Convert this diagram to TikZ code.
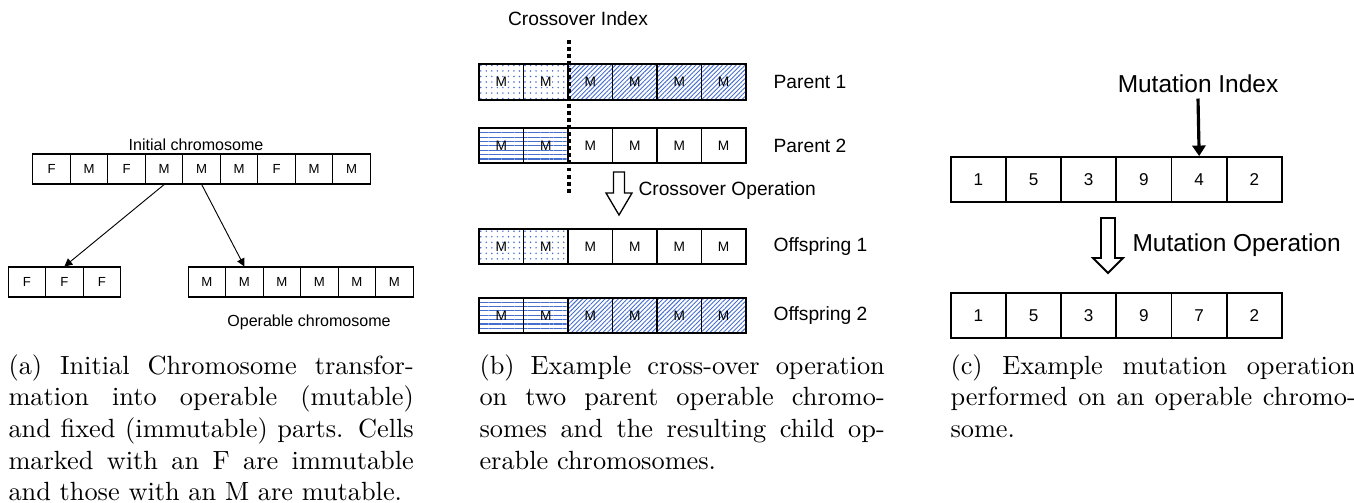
\documentclass[tikz,border=0pt]{standalone}
\usepackage{fontspec}
\newfontfamily\arial{Liberation Sans}
\usetikzlibrary{arrows.meta,positioning,patterns.meta}
\definecolor{hatchblue}{RGB}{70,110,205}
\tikzset{>={Triangle[length=3pt,width=3pt]}}
\tikzset{
  cell/.style={draw,rectangle,inner sep=0pt},
  acell/.style={cell,line width=0.4pt,minimum width=14.25pt,minimum height=11.4pt,
    node distance=14.25pt,font=\arial\fontsize{5}{6}\selectfont},
  bcell/.style={cell,line width=0.7pt,minimum width=16.9pt,minimum height=13.5pt,
    node distance=16.9pt,font=\arial\fontsize{5.2}{6}\selectfont},
  ccell/.style={cell,line width=0.7pt,minimum width=20.98pt,minimum height=17.1pt,
    node distance=20.98pt,font=\arial\fontsize{6.5}{7.5}\selectfont},
  nofill/.style={},
  dotsfill/.style={pattern={Dots[radius=0.32pt,distance=2.1pt]},pattern color=hatchblue},
  hatchfill/.style={pattern={Lines[angle=45,distance=1.2pt,line width=0.35pt]},pattern color=hatchblue},
  hlinefill/.style={pattern={Lines[angle=0,distance=1.65pt,line width=0.4pt]},pattern color=hatchblue},
  alabel/.style={inner sep=0pt,font=\arial\fontsize{6.1}{7}\selectfont},
  blabel/.style={inner sep=0pt,font=\arial\fontsize{7.3}{8.5}\selectfont},
  clabel/.style={inner sep=0pt,font=\arial\fontsize{9.3}{11}\selectfont},
  hollow/.style={draw,line width=0.5pt,fill=white},
  xline/.style={line width=1.6pt,dash pattern=on 1.5pt off 1.2pt},
  caption/.style={anchor=north west,inner sep=0pt,text width=154pt,align=justify,
    font=\normalsize}
}
\begin{document}
\begin{tikzpicture}[x=0.38pt,y=-0.38pt]
  \useasboundingbox (0,0) rectangle (1354,502);

  % (a) initial chromosome split into fixed and operable parts
  \node[acell] (ini1) at (51.7,169) {F};
  \foreach \t [count=\i from 2, evaluate=\i as \j using int(\i-1)] in {M,F,M,M,M,F,M,M}
    \node[acell,right of=ini\j] (ini\i) {\t};
  \node[alabel] (initlab) at (196,145) {Initial chromosome};

  \node[acell] (fix1) at (26.9,282) {F};
  \node[acell,right of=fix1] (fix2) {F};
  \node[acell,right of=fix2] (fix3) {F};

  \node[acell] (op1) at (206.9,282) {M};
  \foreach \i [evaluate=\i as \j using int(\i-1)] in {2,...,6}
    \node[acell,right of=op\j] (op\i) {M};
  \node[alabel] (oplab) at (309,322) {Operable chromosome};

  \draw[->,line width=0.35pt] (ini4.south) -- (fix2.north);
  \draw[->,line width=0.35pt] (ini5.south) -- (op2.north);

  % (b) crossover
  \node[bcell,dotsfill] (pa1) at (501.3,82) {M};
  \foreach \s [count=\i from 2, evaluate=\i as \j using int(\i-1)] in {dotsfill,hatchfill,hatchfill,hatchfill,hatchfill}
    \node[bcell,\s,right of=pa\j] (pa\i) {M};
  \node[bcell,hlinefill] (pb1) at (501.3,145.5) {M};
  \foreach \s [count=\i from 2, evaluate=\i as \j using int(\i-1)] in {hlinefill,nofill,nofill,nofill,nofill}
    \node[bcell,\s,right of=pb\j] (pb\i) {M};
  \node[bcell,dotsfill] (oa1) at (501.3,246.5) {M};
  \foreach \s [count=\i from 2, evaluate=\i as \j using int(\i-1)] in {dotsfill,nofill,nofill,nofill,nofill}
    \node[bcell,\s,right of=oa\j] (oa\i) {M};
  \node[bcell,hlinefill] (ob1) at (501.3,315.5) {M};
  \foreach \s [count=\i from 2, evaluate=\i as \j using int(\i-1)] in {hlinefill,hatchfill,hatchfill,hatchfill,hatchfill}
    \node[bcell,\s,right of=ob\j] (ob\i) {M};

  \node[blabel,anchor=west,right=10pt of pa6] (palab) {Parent 1};
  \node[blabel,anchor=west,right=10pt of pb6] (pblab) {Parent 2};
  \node[blabel,anchor=west,right=10pt of oa6] (oalab) {Offspring 1};
  \node[blabel,anchor=west,right=10pt of ob6] (oblab) {Offspring 2};
  \node[blabel] (xidx) at (578,19) {Crossover Index};

  \draw[xline] ([yshift=9pt]pa2.north east) -- ([yshift=-11.4pt]pb2.south east);

  \coordinate (xarrow) at (619,172);
  \draw[hollow] (xarrow) ++(-5.5,0) -- ++(11,0) -- ++(0,21) -- ++(7.5,0)
    -- ++(-13,22) -- ++(-13,-22) -- ++(7.5,0) -- cycle;
  \node[blabel,anchor=west] (xop) at (638,191) {Crossover Operation};

  % (c) mutation
  \node[ccell] (mu1) at (978.3,179.5) {1};
  \foreach \t [count=\i from 2, evaluate=\i as \j using int(\i-1)] in {5,3,9,4,2}
    \node[ccell,right of=mu\j] (mu\i) {\t};
  \node[ccell] (mv1) at (978.3,315.5) {1};
  \foreach \t [count=\i from 2, evaluate=\i as \j using int(\i-1)] in {5,3,9,7,2}
    \node[ccell,right of=mv\j] (mv\i) {\t};

  \node[clabel] (midx) at (1198,84) {Mutation Index};
  \draw[line width=1.2pt,-{Triangle[length=4pt,width=5pt]}] (midx.south) ++(0,5) -- (mu5.north);

  \coordinate (marrow) at (1108,218);
  \draw[hollow,line width=0.7pt] (marrow) ++(-7,0) -- ++(14,0) -- ++(0,40) -- ++(8,0)
    -- ++(-15,15) -- ++(-15,-15) -- ++(8,0) -- cycle;
  \node[clabel,anchor=west] (mop) at (1132,245) {Mutation Operation};

  % captions
  \node[caption] (capa) at (8,354) {(a) Initial Chromosome transfor-\linebreak
    mation into operable (mutable)\linebreak and fixed (immutable) parts. Cells\linebreak
    marked with an F are immutable\linebreak and those with an M are mutable.};
  \node[caption] (capb) at (479,354) {(b) Example cross-over operation\linebreak
    on two parent operable chromo-\linebreak somes and the resulting child op-\linebreak
    erable chromosomes.};
  \node[caption] (capc) at (950,354) {(c) Example mutation operation\linebreak
    performed on an operable chromo-\linebreak some.};
\end{tikzpicture}
\end{document}
